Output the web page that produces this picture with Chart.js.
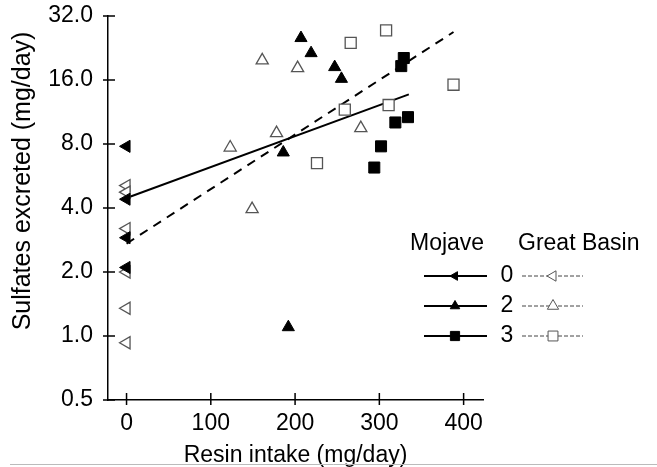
<!DOCTYPE html>
<html>
<head>
<meta charset="utf-8">
<script src="https://cdn.jsdelivr.net/npm/chart.js@4"></script>
<style>
  html, body { margin: 0; padding: 0; background: #fff; }
  #wrap { width: 657px; height: 467px; position: relative; }
</style>
</head>
<body>
<div id="wrap"><canvas id="c" width="657" height="467"></canvas></div>
<script>
// tick values
const xTicks = [0, 100, 200, 300, 400];
const yTicks = [0.5, 1, 2, 4, 8, 16, 32];

// Mojave (filled) and Great Basin (open), by resin level 0 / 2 / 3
const mojave0X = [0, 0, 0, 0];
const mojave0Y = [7.8, 4.4, 2.9, 2.1];
const basin0X = [0, 0, 0, 0, 0, 0];
const basin0Y = [5.1, 4.75, 3.2, 2.0, 1.35, 0.93];

const mojave2X = [207, 219, 247, 255, 186, 192];
const mojave2Y = [25.2, 21.4, 18.4, 16.2, 7.3, 1.1];
const basin2X = [161, 203, 178, 123, 149, 278];
const basin2Y = [19.8, 18.2, 9.0, 7.7, 3.95, 9.5];

const mojave3X = [329, 326, 334, 319, 302, 294];
const mojave3Y = [20.3, 18.6, 10.7, 10.1, 7.8, 6.2];
const basin3X = [308, 266, 388, 259, 311, 226];
const basin3Y = [27.4, 23.9, 15.2, 11.6, 12.2, 6.5];

// regression lines (end points)
const mojaveFitX = [0, 335];
const mojaveFitY = [4.46, 13.7];
const basinFitX = [0, 388];
const basinFitY = [2.72, 26.9];

const legendRows = ['0', '2', '3'];
const legendTitles = ['Mojave', 'Great Basin'];
const yTitle = 'Sulfates excreted (mg/day)';

const FONT = '"Liberation Sans", Arial, Helvetica, sans-serif';
const pts = (xs, ys) => xs.map((x, i) => ({ x: x, y: ys[i] }));

function markerSet(label, xs, ys, style, rot, filled, r) {
    return {
        label: label, data: pts(xs, ys), showLine: false,
        pointStyle: style, pointRotation: rot, pointRadius: r, pointHoverRadius: r,
        backgroundColor: filled ? '#000' : '#fff',
        borderColor: filled ? '#000' : '#555',
        pointBorderWidth: filled ? 1 : 1.3
    };
}

// ticks that cross the axis lines, y title, bottom rule
const crossTicks = {
    id: 'crossTicks',
    afterDraw(chart) {
        const ctx = chart.ctx, xs = chart.scales.x, ys = chart.scales.y;
        const a = chart.chartArea;
        ctx.save();
        ctx.strokeStyle = '#000';
        ctx.lineWidth = 1.5;
        ctx.beginPath();
        xTicks.forEach(v => {
            const px = xs.getPixelForValue(v);
            ctx.moveTo(px, a.bottom - 7); ctx.lineTo(px, a.bottom + 5);
        });
        yTicks.forEach(v => {
            const py = ys.getPixelForValue(v);
            ctx.moveTo(a.left - 5, py); ctx.lineTo(a.left + 7, py);
        });
        ctx.stroke();

        // y title sits a bit above the axis middle in the original
        ctx.translate(23, 181);
        ctx.rotate(-Math.PI / 2);
        ctx.fillStyle = '#000';
        ctx.font = '25px ' + FONT;
        ctx.textAlign = 'center';
        ctx.textBaseline = 'middle';
        ctx.fillText(yTitle, 0, 0);
        ctx.setTransform(1, 0, 0, 1, 0, 0);

        // thin rule under the figure
        ctx.strokeStyle = '#bbb';
        ctx.lineWidth = 1;
        ctx.beginPath();
        ctx.moveTo(10, 464.5); ctx.lineTo(657, 464.5);
        ctx.stroke();
        ctx.restore();
    }
};

const keyBox = {
    id: 'keyBox',
    afterDraw(chart) {
        const ctx = chart.ctx;
        ctx.save();
        ctx.fillStyle = '#000';
        ctx.font = '23px ' + FONT;
        ctx.textBaseline = 'middle';
        ctx.textAlign = 'left';
        ctx.fillText(legendTitles[0], 410, 244);
        ctx.fillText(legendTitles[1], 518, 244);
        const styles = [['triangle', 270, 5, 6], ['triangle', 0, 5.5, 6.5], ['rect', 0, 6.5, 7]];
        const rowY = [276, 306, 336];
        legendRows.forEach((lab, i) => {
            const y = rowY[i];
            ctx.fillStyle = '#000';
            ctx.textAlign = 'center';
            ctx.fillText(lab, 507, y);
            // Mojave sample: solid line with filled marker
            ctx.strokeStyle = '#000';
            ctx.lineWidth = 2;
            ctx.setLineDash([]);
            ctx.beginPath(); ctx.moveTo(424, y); ctx.lineTo(487, y); ctx.stroke();
            ctx.fillStyle = '#000';
            ctx.lineWidth = 1;
            Chart.helpers.drawPoint(ctx, { pointStyle: styles[i][0], rotation: styles[i][1], radius: styles[i][2], borderWidth: 1 }, 455, y);
            // Great Basin sample: dashed thin line with open marker
            ctx.strokeStyle = '#444';
            ctx.lineWidth = 1;
            ctx.setLineDash([4, 2]);
            ctx.beginPath(); ctx.moveTo(522, y); ctx.lineTo(583, y); ctx.stroke();
            ctx.setLineDash([]);
            ctx.fillStyle = '#fff';
            ctx.strokeStyle = '#555';
            Chart.helpers.drawPoint(ctx, { pointStyle: styles[i][0], rotation: styles[i][1], radius: styles[i][3], borderWidth: 1 }, 553, y);
        });
        ctx.restore();
    }
};

const noPad = s => { s.paddingTop = 0; s.paddingBottom = 0; s.paddingLeft = 0; s.paddingRight = 0; };

new Chart(document.getElementById('c'), {
    type: 'scatter',
    data: {
        datasets: [
            markerSet('Mojave 0', mojave0X, mojave0Y, 'triangle', 270, true, 7),
            markerSet('Mojave 2', mojave2X, mojave2Y, 'triangle', 0, true, 7),
            markerSet('Mojave 3', mojave3X, mojave3Y, 'rect', 0, true, 7.8),
            markerSet('Great Basin 0', basin0X, basin0Y, 'triangle', 270, false, 7),
            markerSet('Great Basin 2', basin2X, basin2Y, 'triangle', 0, false, 7),
            markerSet('Great Basin 3', basin3X, basin3Y, 'rect', 0, false, 7.8),
            { label: 'Mojave fit', data: pts(mojaveFitX, mojaveFitY), showLine: true, pointRadius: 0,
              borderColor: '#000', borderWidth: 2 },
            { label: 'Great Basin fit', data: pts(basinFitX, basinFitY), showLine: true, pointRadius: 0,
              borderColor: '#000', borderWidth: 2, borderDash: [9, 7] }
        ]
    },
    options: {
        responsive: false, animation: false, devicePixelRatio: 1,
        layout: { padding: { left: 10, top: 16, right: 174, bottom: 0 } },
        plugins: { legend: { display: false }, tooltip: { enabled: false } },
        scales: {
            x: {
                type: 'linear', min: -22, max: 423,
                afterBuildTicks: s => { s.ticks = xTicks.map(v => ({ value: v })); },
                afterFit: s => { s.height = 67; noPad(s); },
                grid: { display: true, drawOnChartArea: false, drawTicks: false },
                border: { display: true, color: '#000', width: 1.5 },
                ticks: { color: '#000', padding: 10, font: { family: FONT, size: 23 } },
                title: { display: true, text: 'Resin intake (mg/day)', color: '#000', padding: { top: 0, bottom: -2 },
                         font: { family: FONT, size: 23 } }
            },
            y: {
                type: 'logarithmic', min: 0.5, max: 32,
                afterBuildTicks: s => { s.ticks = yTicks.map(v => ({ value: v })); },
                afterFit: s => { s.width = 98; noPad(s); },
                grid: { display: true, drawOnChartArea: false, drawTicks: false },
                border: { display: true, color: '#000', width: 1.5 },
                ticks: { color: '#000', padding: 15, font: { family: FONT, size: 23 },
                         callback: v => Number(v).toFixed(1) },
                title: { display: false }
            }
        }
    },
    plugins: [crossTicks, keyBox]
});
</script>
</body>
</html>
